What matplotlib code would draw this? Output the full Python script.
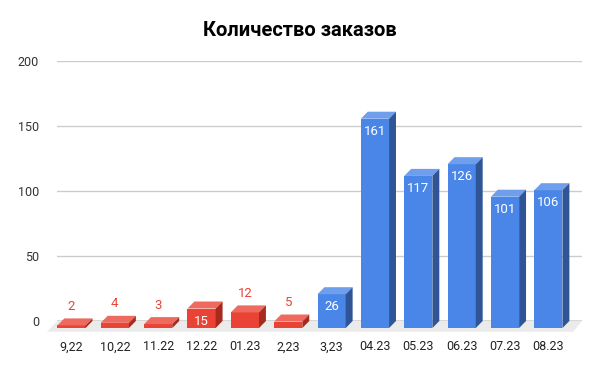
import matplotlib
matplotlib.use('Agg')
import matplotlib.pyplot as plt
from matplotlib.patches import Polygon

plt.rcParams['font.family'] = ['Roboto', 'DejaVu Sans']

# data
months = ['9,22', '10,22', '11.22', '12.22', '01.23', '2,23',
          '3,23', '04.23', '05.23', '06.23', '07.23', '08.23']
orders = [2, 4, 3, 15, 12, 5, 26, 161, 117, 126, 101, 106]
group = ['old'] * 6 + ['new'] * 6
y_ticks = [0, 50, 100, 150, 200]

# face colours: front, top, side
palette = {
    'old': ('#EA4335', '#EE6A5F', '#A82A1E'),
    'new': ('#4A86E8', '#6E9EEC', '#2F5597'),
}
label_color = {'old': '#EA4335', 'new': '#4A86E8'}

fig = plt.figure(figsize=(6, 3.71), dpi=100)
ax = fig.add_axes([57 / 600, 50 / 371, 525 / 600, 260 / 371])
ax.set_xlim(-0.334, 11.776)
ax.set_ylim(0, 200)

w = 0.65      # bar front width
dx = 0.16     # 3d depth, x units
dy = 5.4      # 3d depth, y units

# floor
floor = Polygon([(-0.565, -8.3), (-0.334, 0), (11.776, 0), (11.57, -8.3)],
                closed=True, fc='#EBEBEB', ec='none', clip_on=False, zorder=0)
ax.add_patch(floor)

for t in y_ticks[1:]:
    ax.axhline(t, color='#CCCCCC', lw=1, zorder=1)
ax.axhline(0, color='#333333', lw=1, zorder=2)

for i, (v, g) in enumerate(zip(orders, group)):
    front, top, side = palette[g]
    x0, x1 = i - w / 2, i + w / 2
    yb, yt = -dy, v - dy
    ax.add_patch(Polygon([(x0, yb), (x0, yt), (x1, yt), (x1, yb)],
                         fc=front, ec='none', clip_on=False, zorder=3))
    ax.add_patch(Polygon([(x0, yt), (x0 + dx, v), (x1 + dx, v), (x1, yt)],
                         fc=top, ec='none', clip_on=False, zorder=3))
    ax.add_patch(Polygon([(x1, yb), (x1, yt), (x1 + dx, v), (x1 + dx, yb + dy)],
                         fc=side, ec='none', clip_on=False, zorder=3))
    if v >= 15:
        ax.annotate(str(v), (i, yt), xytext=(0, -9), textcoords='offset points',
                    ha='center', va='center', color='white', fontsize=9.5, zorder=4)
    else:
        ax.annotate(str(v), (i, v), xytext=(0, 8.5), textcoords='offset points',
                    ha='center', va='center', color=label_color[g], fontsize=9.5,
                    zorder=4)

ax.set_yticks(y_ticks)
ax.set_yticklabels([str(t) for t in y_ticks], color='#333333', fontsize=9)
ax.set_xticks(range(len(months)))
ax.set_xticklabels(months, color='#222222', fontsize=9)
ax.tick_params(axis='y', length=0, pad=13)
ax.tick_params(axis='x', length=0, pad=14)
for s in ax.spines.values():
    s.set_visible(False)

fig.text(0.5, 1 - 30 / 371, 'Количество заказов', ha='center', va='center',
         fontsize=14.5, fontweight='bold', color='#000000')

fig.savefig('out.png', dpi=100)
